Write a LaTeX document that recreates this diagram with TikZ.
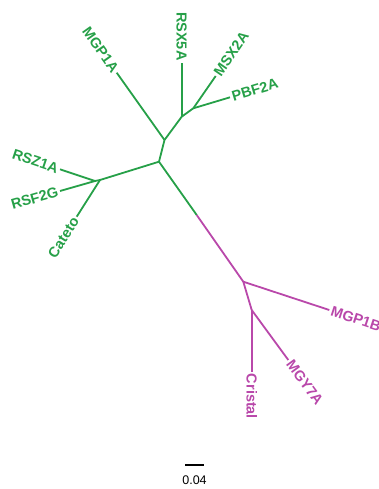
\documentclass[tikz,border=0pt]{standalone}
\usepackage{fontspec}
\setmainfont{Liberation Sans}
\definecolor{tgreen}{RGB}{38,160,72}
\definecolor{tmag}{RGB}{185,72,170}
\begin{document}
\begin{tikzpicture}[x=1pt,y=-1pt,
  br/.style={line width=1.8pt},
  gbr/.style={br,draw=tgreen},
  mbr/.style={br,draw=tmag},
  lab/.style={font=\bfseries\fontsize{14.5}{15}\selectfont,inner sep=2pt},
  glab/.style={lab,text=tgreen},
  mlab/.style={lab,text=tmag}]
\useasboundingbox (0,0) rectangle (379,489);
\clip (0,0) rectangle (379,489);
% internal nodes
\coordinate (J0) at (159,161.7);
\coordinate (J1) at (164.5,140);
\coordinate (J2) at (181.7,116.7);
\coordinate (J3) at (193.3,108.3);
\coordinate (J4) at (100,180);
\coordinate (J5) at (95,181);
\coordinate (Jm) at (196.7,215);
\coordinate (J6) at (243.3,281.7);
\coordinate (J7) at (251.7,310);
% tips
\coordinate (tMGP1A) at (116.7,72.7);
\coordinate (tRSX5A) at (181.7,62.7);
\coordinate (tMSX2A) at (215.7,76);
\coordinate (tPBF2A) at (230,97.3);
\coordinate (tRSZ1A) at (60,169.3);
\coordinate (tRSF2G) at (60,191);
\coordinate (tCateto) at (76.7,216.7);
\coordinate (tMGP1B) at (329.3,310);
\coordinate (tMGY7A) at (288.3,360);
\coordinate (tCristal) at (251.7,371.7);
% branches
\draw[gbr,line cap=round] (J0) -- (J1) -- (J2) -- (J3);
\draw[gbr] (J1) -- (tMGP1A);
\draw[gbr] (J2) -- (tRSX5A);
\draw[gbr] (J3) -- (tMSX2A);
\draw[gbr] (J3) -- (tPBF2A);
\draw[gbr,line cap=round] (J0) -- (J4) -- (J5);
\draw[gbr] (J5) -- (tRSZ1A);
\draw[gbr] (J5) -- (tRSF2G);
\draw[gbr] (J4) -- (tCateto);
\draw[gbr] (J0) -- (Jm);
\draw[mbr] (Jm) -- (J6);
\draw[mbr,line cap=round] (J6) -- (J7);
\draw[mbr] (J6) -- (tMGP1B);
\draw[mbr] (J7) -- (tMGY7A);
\draw[mbr] (J7) -- (tCristal);
% labels
\node[glab,anchor=east,rotate=-54.7] (lMGP1A) at (tMGP1A) {MGP1A};
\node[glab,anchor=east,rotate=-90] (lRSX5A) at (tRSX5A) {RSX5A};
\node[glab,anchor=west,rotate=55.3] (lMSX2A) at (tMSX2A) {MSX2A};
\node[glab,anchor=west,rotate=16.7] (lPBF2A) at (tPBF2A) {PBF2A};
\node[glab,anchor=east,rotate=-18.5] (lRSZ1A) at (tRSZ1A) {RSZ1A};
\node[glab,anchor=east,rotate=16] (lRSF2G) at (tRSF2G) {RSF2G};
\node[glab,anchor=east,rotate=57.6] (lCateto) at (tCateto) {Cateto};
\node[mlab,anchor=west,rotate=-18.2] (lMGP1B) at (tMGP1B) {MGP1B};
\node[mlab,anchor=west,rotate=-53.7] (lMGY7A) at (tMGY7A) {MGY7A};
\node[mlab,anchor=west,rotate=-90] (lCristal) at (tCristal) {Cristal};
% scale bar
\coordinate (sb1) at (185,465);
\coordinate (sb2) at (204,465);
\draw[line width=1.3pt] (sb1) -- (sb2);
\node[font=\fontsize{12.5}{13}\selectfont] (sbl) at (194.5,480) {0.04};
\end{tikzpicture}
\end{document}
